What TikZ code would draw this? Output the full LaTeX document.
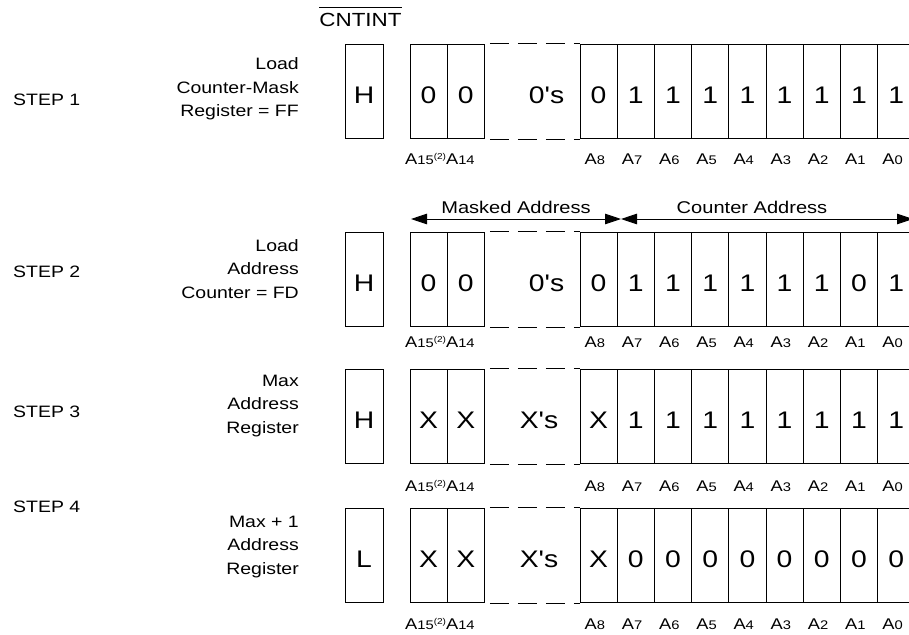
\documentclass[tikz,border=0pt]{standalone}
\usepackage{fontspec}
\setmainfont{Liberation Sans}[FakeStretch=1.18, Ligatures=TeXOff]
\usetikzlibrary{arrows.meta}
\newcommand\addrlbl[1]{A{\fontsize{12.5}{12.5}\selectfont #1}}
\newcommand\addrtop{A{\fontsize{12.5}{12.5}\selectfont 15}\raisebox{4.5pt}{\fontsize{8.5}{8.5}\selectfont (2)}A{\fontsize{12.5}{12.5}\selectfont 14}}
\begin{document}
\begin{tikzpicture}[x=1pt,y=-1pt,
  every node/.style={inner sep=0pt},
  cellbox/.style={draw, line width=0.9pt, minimum width=37.2pt, minimum height=94.5pt,
    font=\fontsize{24}{24}\selectfont, text height=24.5pt, text depth=0pt},
  hbox/.style={cellbox, minimum width=38pt},
  fillertext/.style={font=\fontsize{24}{24}\selectfont, text height=24.5pt, text depth=0pt},
  lbl/.style={font=\fontsize{15.5}{15.5}\selectfont, anchor=base west},
  desc/.style={font=\fontsize{16.5}{23.5}\selectfont, align=right, anchor=east},
  steplbl/.style={font=\fontsize{16.5}{16.5}\selectfont, anchor=west},
  dashline/.style={line width=0.9pt, dash pattern=on 19pt off 9pt},
  spanarrow/.style={line width=0.9pt, {Triangle[length=16pt,width=10.5pt]}-{Triangle[length=16pt,width=10.5pt]}},
  spantext/.style={font=\fontsize{17}{17}\selectfont}
]
\useasboundingbox (0,0) rectangle (909,634);

% CNTINT header
\node[font=\fontsize{19}{19}\selectfont] (cnt) at (360.5,20.3) {CNTINT};
\draw[line width=0.9pt] ([yshift=6pt]cnt.north west) -- ([yshift=6pt]cnt.north east);

% rows
\foreach \r/\yc/\hv/\lv/\fx/\lb/\vals in {
  1/91.25/H/0/546.5/164/{0,1,1,1,1,1,1,1,1},
  2/279.25/H/0/546.5/347/{0,1,1,1,1,1,1,0,1},
  3/416.25/H/X/539/491/{X,1,1,1,1,1,1,1,1},
  4/555.25/L/X/539/629/{X,0,0,0,0,0,0,0,0}}{
  \node[hbox] (h\r) at (364,\yc) {\hv};
  \node[cellbox] (r\r-a15) at (428.6,\yc) {\lv};
  \node[cellbox] (r\r-a14) at (465.8,\yc) {\lv};
  \foreach \v [count=\i from 0] in \vals {
    \node[cellbox] (r\r-k\i) at (598.6+37.2*\i,\yc) {\v};
  }
  \node[fillertext] (r\r-fill) at (\fx,\yc) {\lv's};
  \draw[dashline] ([xshift=5pt]r\r-a14.north east) -- (r\r-k0.north west);
  \draw[dashline] ([xshift=5pt]r\r-a14.south east) -- (r\r-k0.south west);
  \node[lbl] (r\r-ltop) at (405,\lb) {\addrtop};
  \foreach \b [count=\i from 0] in {8,7,6,5,4,3,2,1,0} {
    \node[lbl] (r\r-lab\i) at (584.5+37.2*\i,\lb) {\addrlbl{\b}};
  }
}

% step labels
\node[steplbl] (st1) at (13,100) {STEP 1};
\node[steplbl] (st2) at (13,272) {STEP 2};
\node[steplbl] (st3) at (13,412) {STEP 3};
\node[steplbl] (st4) at (13,507) {STEP 4};

\node[desc] (d1) at (299,89) {Load\\Counter-Mask\\Register = FF};
\node[desc] (d2) at (299,269) {Load\\Address\\Counter = FD};
\node[desc] (d3) at (299,406) {Max\\Address\\Register};
\node[desc] (d4) at (299,547) {Max + 1\\Address\\Register};

% span arrows
\coordinate (maskL) at (411,219);
\coordinate (mid) at (621,219);
\coordinate (cntR) at (913,219);
\draw[spanarrow] (maskL) -- (mid);
\draw[spanarrow] (mid) -- (cntR);
\node[spantext] (mtxt) at (516,207) {Masked Address};
\node[spantext] (ctxt) at (752,207) {Counter Address};
\end{tikzpicture}
\end{document}
